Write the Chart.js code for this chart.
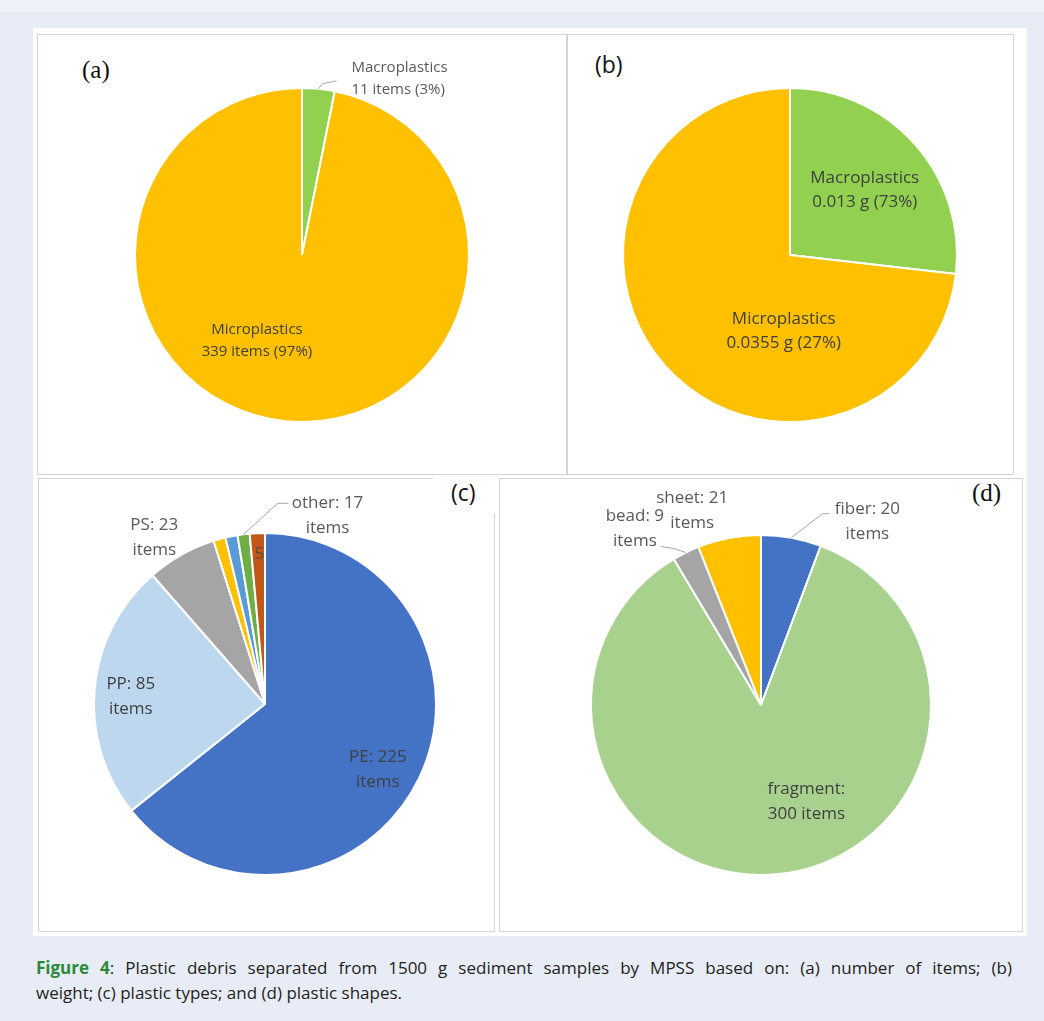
<!DOCTYPE html>
<html>
<head>
<meta charset="utf-8">
<script src="https://cdn.jsdelivr.net/npm/chart.js@4.4.1/dist/chart.umd.min.js"></script>
<style>
  body { margin: 0; width: 1044px; height: 1021px; background: #e8ecf6; position: relative; overflow: hidden; font-family: 'Open Sans', sans-serif; }
  .strip { position: absolute; left: 0; top: 0; width: 1044px; height: 12px; background: #eef1f8; }
  .frame { position: absolute; left: 33px; top: 28px; width: 994px; height: 908px; background: #fff; }
  .panel { position: absolute; border: 1px solid #d4d4d4; box-sizing: border-box; background: #fff; }
  canvas { position: absolute; }
  .tag { position: absolute; color: #111; line-height: 28px; }
  .serif { font-family: 'Liberation Serif', serif; font-size: 25px; }
  .sans { font-family: 'Open Sans', sans-serif; font-size: 23px; }
  .caption { position: absolute; left: 36px; top: 955px; width: 976px; font-family: 'Open Sans', sans-serif; font-size: 17px; line-height: 25px; color: #231f20; }
  .caption .l1 { text-align: justify; text-align-last: justify; }
  .caption b { color: #2a8a3a; }
</style>
</head>
<body>
<div class="strip"></div>
<div class="frame"></div>
<div class="panel" style="left:37px;top:34px;width:530px;height:441px"></div>
<div class="panel" style="left:567px;top:34px;width:447px;height:441px"></div>
<div class="panel" style="left:38px;top:478px;width:457px;height:454px"></div>
<div class="panel" style="left:499px;top:478px;width:524px;height:454px"></div>
<div style="position:absolute;left:433px;top:476px;width:65px;height:37px;background:#fff"></div>
<div class="tag serif" style="left:82px;top:56px">(a)</div>
<div class="tag sans" style="left:595px;top:50px">(b)</div>
<div class="tag sans" style="left:451px;top:478px">(c)</div>
<div class="tag serif" style="left:972px;top:479px">(d)</div>
<div class="caption">
  <div class="l1"><b>Figure 4</b>: Plastic debris separated from 1500 g sediment samples by MPSS based on: (a) number of items; (b)</div>
  <div>weight; (c) plastic types; and (d) plastic shapes.</div>
</div>
<script>
// (a) number of items
const sizeClasses = ['Macroplastics', 'Microplastics'];
const itemCounts = [11, 339];
const itemPct = ['3%', '97%'];
// (b) weight in g (percentages as printed in the figure)
const weights = [0.013, 0.0355];
const weightPct = ['73%', '27%'];
// (c) plastic types
const typeNames = ['PE', 'PP', 'PS', 'other 1', 'other 2', 'other 3', 'other 4'];
const typeCounts = [225, 85, 23, 4, 4, 4, 5];
// (d) plastic shapes
const shapeNames = ['fiber', 'fragment', 'bead', 'sheet'];
const shapeCounts = [20, 300, 9, 21];

const otherTotal = typeCounts.slice(3).reduce((a, b) => a + b, 0);

// draws text for a slice at its mid angle, optionally with a leader line
const pieLabels = {
  id: 'pieLabels',
  afterDatasetsDraw(chart, args, opts) {
    if (!opts.items) return;
    const ctx = chart.ctx;
    const arcs = chart.getDatasetMeta(0).data;
    ctx.save();
    opts.items.forEach(item => {
      const p = arcs[item.i].getProps(['x', 'y', 'startAngle', 'endAngle', 'outerRadius'], true);
      const mid = (p.startAngle + p.endAngle) / 2;
      const ex = p.x + Math.cos(mid) * p.outerRadius;
      const ey = p.y + Math.sin(mid) * p.outerRadius;
      const ax = p.x + Math.cos(mid) * p.outerRadius * item.r;
      const ay = p.y + Math.sin(mid) * p.outerRadius * item.r;
      if (item.leader) {
        ctx.strokeStyle = '#a6a6a6';
        ctx.lineWidth = 1;
        ctx.beginPath();
        ctx.moveTo(ex, ey);
        item.leader.forEach(pt => ctx.lineTo(ex + pt[0], ey + pt[1]));
        ctx.stroke();
      }
      ctx.font = opts.font;
      ctx.fillStyle = item.color || opts.color;
      ctx.textAlign = item.align || 'center';
      ctx.textBaseline = 'middle';
      item.lines.forEach((t, k) => {
        ctx.fillText(t, ax + item.dx, ay + item.dy + k * opts.lineHeight);
      });
    });
    ctx.restore();
  }
};

function makePie(rect, center, radius, labels, values, colors, labelOpts) {
  const cv = document.createElement('canvas');
  cv.width = rect[2];
  cv.height = rect[3];
  cv.style.left = rect[0] + 'px';
  cv.style.top = rect[1] + 'px';
  document.body.appendChild(cv);
  const lx = center[0] - rect[0];
  const ly = center[1] - rect[1];
  const half = radius + 1;
  new Chart(cv, {
    type: 'pie',
    data: {
      labels: labels,
      datasets: [{
        data: values,
        backgroundColor: colors,
        borderColor: '#ffffff',
        borderWidth: 2,
        hoverOffset: 0
      }]
    },
    options: {
      responsive: false,
      animation: false,
      layout: {
        padding: { left: lx - half, right: rect[2] - lx - half, top: ly - half, bottom: rect[3] - ly - half }
      },
      plugins: {
        legend: { display: false },
        tooltip: { enabled: false },
        pieLabels: labelOpts
      }
    },
    plugins: [pieLabels]
  });
}

makePie([37, 34, 530, 441], [302, 255], 167, sizeClasses, itemCounts, ['#92D050', '#FFC000'], {
  font: '15px "Open Sans"', color: '#595959', lineHeight: 22,
  items: [
    { i: 0, r: 1, dx: 33, dy: -21, align: 'left', leader: [[4, -5], [18, -8]],
      lines: [sizeClasses[0], itemCounts[0] + ' items (' + itemPct[0] + ')'] },
    { i: 1, r: 0.55, dx: -36, dy: -17, color: '#404040',
      lines: [sizeClasses[1], itemCounts[1] + ' items (' + itemPct[1] + ')'] }
  ]
});

makePie([567, 34, 447, 441], [790, 255], 167, sizeClasses, weights, ['#92D050', '#FFC000'], {
  font: '17px "Open Sans"', color: '#404040', lineHeight: 24,
  items: [
    { i: 0, r: 0.6, dx: 0, dy: -10, lines: [sizeClasses[0], weights[0] + ' g (' + weightPct[0] + ')'] },
    { i: 1, r: 0.5, dx: 56, dy: 9, lines: [sizeClasses[1], weights[1] + ' g (' + weightPct[1] + ')'] }
  ]
});

makePie([38, 478, 457, 454], [265, 704], 171, typeNames, typeCounts,
  ['#4472C4', '#BDD7EE', '#A5A5A5', '#FFC000', '#5B9BD5', '#70AD47', '#C0581A'], {
  font: '17px "Open Sans"', color: '#595959', lineHeight: 25,
  items: [
    { i: 0, r: 0.7, dx: 5, dy: 1, color: '#404040', lines: [typeNames[0] + ': ' + typeCounts[0], 'items'] },
    { i: 1, r: 0.7, dx: -15, dy: -9, color: '#404040', lines: [typeNames[1] + ': ' + typeCounts[1], 'items'] },
    { i: 2, r: 1, dx: -27, dy: -30, lines: [typeNames[2] + ': ' + typeCounts[2], 'items'] },
    { i: 5, r: 1, dx: 84, dy: -31, leader: [[34, -31], [45, -31]], lines: ['other: ' + otherTotal, 'items'] },
    { i: 6, r: 0.88, dx: 1, dy: 0, color: '#5a4a40', lines: [String(typeCounts[6])] }
  ]
});

makePie([499, 478, 524, 454], [761, 705], 170, shapeNames, shapeCounts,
  ['#4472C4', '#A9D18E', '#A5A5A5', '#FFC000'], {
  font: '17px "Open Sans"', color: '#595959', lineHeight: 25,
  items: [
    { i: 0, r: 1, dx: 76, dy: -29, leader: [[31, -24], [38, -24]], lines: [shapeNames[0] + ': ' + shapeCounts[0], 'items'] },
    { i: 1, r: 0.55, dx: 37, dy: -9, color: '#404040', lines: [shapeNames[1] + ':', shapeCounts[1] + ' items'] },
    { i: 2, r: 1, dx: -51, dy: -36, leader: [[-12, -4], [-25, -6]], lines: [shapeNames[2] + ': ' + shapeCounts[2], 'items'] },
    { i: 3, r: 1, dx: -37, dy: -40, lines: [shapeNames[3] + ': ' + shapeCounts[3], 'items'] }
  ]
});
</script>
</body>
</html>
